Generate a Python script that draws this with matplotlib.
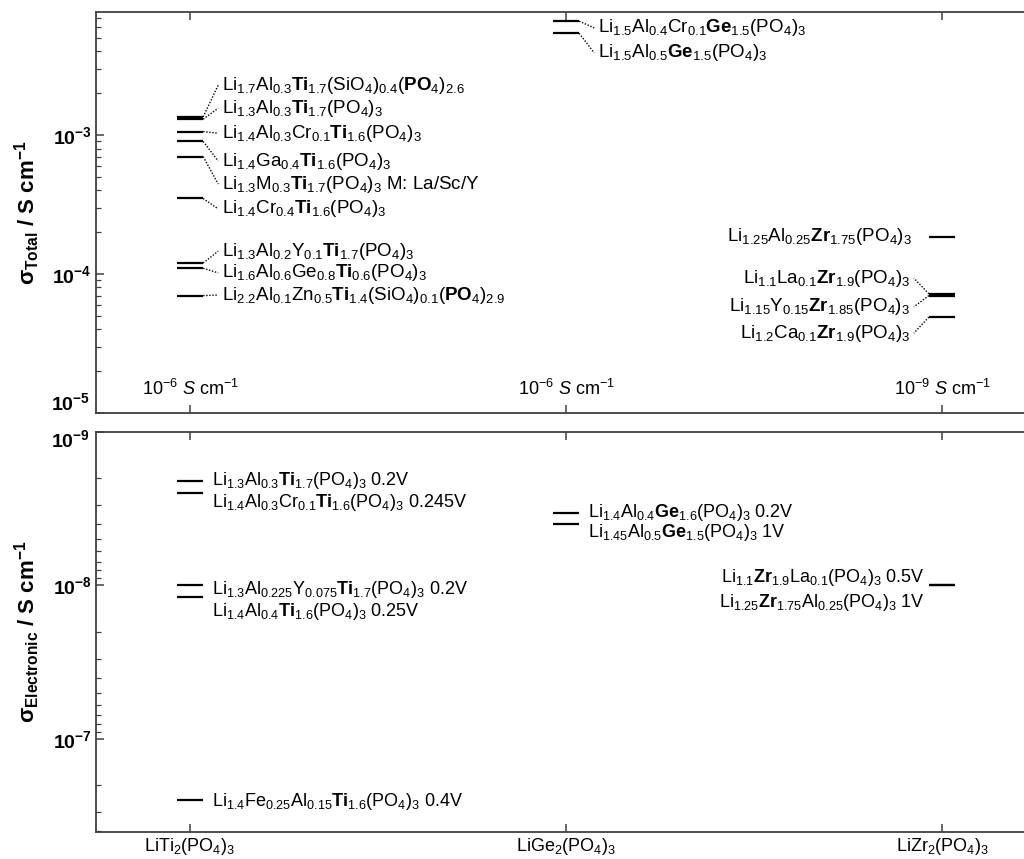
import matplotlib
matplotlib.use('Agg')
import matplotlib.pyplot as plt
from matplotlib.ticker import LogLocator, FuncFormatter, NullFormatter, FixedLocator
import numpy as np

plt.rcParams['font.family'] = ['Liberation Sans', 'DejaVu Sans']
plt.rcParams['mathtext.fontset'] = 'custom'
plt.rcParams['mathtext.rm'] = 'Liberation Sans'
plt.rcParams['mathtext.it'] = 'Liberation Sans:italic'
plt.rcParams['mathtext.bf'] = 'Liberation Sans:bold'
plt.rcParams['mathtext.default'] = 'regular'

# parent compounds on the x axis
families = [r'LiTi$_2$(PO$_4$)$_3$', r'LiGe$_2$(PO$_4$)$_3$', r'LiZr$_2$(PO$_4$)$_3$']
fam_x = [0, 1, 2]
elec_ref = [r'$10^{-6}\ \mathit{S}\ cm^{-1}$', r'$10^{-6}\ \mathit{S}\ cm^{-1}$', r'$10^{-9}\ \mathit{S}\ cm^{-1}$']

# total conductivity (S/cm)
ti_total = [1.35e-3, 1.3e-3, 1.06e-3, 9.0e-4, 7.0e-4, 3.5e-4, 1.2e-4, 1.1e-4, 7.0e-5]
ti_total_names = [
    r'$Li_{1.7}Al_{0.3}\mathbf{Ti}_{1.7}(SiO_4)_{0.4}(\mathbf{PO}_4)_{2.6}$',
    r'$Li_{1.3}Al_{0.3}\mathbf{Ti}_{1.7}(PO_4)_3$',
    r'$Li_{1.4}Al_{0.3}Cr_{0.1}\mathbf{Ti}_{1.6}(PO_4)_3$',
    r'$Li_{1.4}Ga_{0.4}\mathbf{Ti}_{1.6}(PO_4)_3$',
    r'$Li_{1.3}M_{0.3}\mathbf{Ti}_{1.7}(PO_4)_3$ M: La/Sc/Y',
    r'$Li_{1.4}Cr_{0.4}\mathbf{Ti}_{1.6}(PO_4)_3$',
    r'$Li_{1.3}Al_{0.2}Y_{0.1}\mathbf{Ti}_{1.7}(PO_4)_3$',
    r'$Li_{1.6}Al_{0.6}Ge_{0.8}\mathbf{Ti}_{0.6}(PO_4)_3$',
    r'$Li_{2.2}Al_{0.1}Zn_{0.5}\mathbf{Ti}_{1.4}(SiO_4)_{0.1}(\mathbf{PO}_4)_{2.9}$',
]
ti_total_lab_y = [2.29e-3, 1.56e-3, 1.03e-3, 6.5e-4, 4.44e-4, 2.94e-4, 1.46e-4, 1.02e-4, 7.06e-5]

ge_total = [6.6e-3, 5.4e-3]
ge_total_names = [
    r'$Li_{1.5}Al_{0.4}Cr_{0.1}\mathbf{Ge}_{1.5}(PO_4)_3$',
    r'$Li_{1.5}Al_{0.5}\mathbf{Ge}_{1.5}(PO_4)_3$',
]
ge_total_lab_y = [5.9e-3, 3.9e-3]

zr_total = [1.85e-4, 7.2e-5, 7.0e-5, 4.9e-5]
zr_total_names = [
    r'$Li_{1.25}Al_{0.25}\mathbf{Zr}_{1.75}(PO_4)_3$',
    r'$Li_{1.1}La_{0.1}\mathbf{Zr}_{1.9}(PO_4)_3$',
    r'$Li_{1.15}Y_{0.15}\mathbf{Zr}_{1.85}(PO_4)_3$',
    r'$Li_{1.2}Ca_{0.1}\mathbf{Zr}_{1.9}(PO_4)_3$',
]
zr_total_lab_y = [1.85e-4, 9.35e-5, 5.8e-5, 3.75e-5]

# electronic conductivity (S/cm)
ti_elec = [2.1e-9, 2.5e-9, 1.0e-8, 1.2e-8, 2.5e-7]
ti_elec_names = [
    r'$Li_{1.3}Al_{0.3}\mathbf{Ti}_{1.7}(PO_4)_3$ 0.2V',
    r'$Li_{1.4}Al_{0.3}Cr_{0.1}\mathbf{Ti}_{1.6}(PO_4)_3$ 0.245V',
    r'$Li_{1.3}Al_{0.225}Y_{0.075}\mathbf{Ti}_{1.7}(PO_4)_3$ 0.2V',
    r'$Li_{1.4}Al_{0.4}\mathbf{Ti}_{1.6}(PO_4)_3$ 0.25V',
    r'$Li_{1.4}Fe_{0.25}Al_{0.15}\mathbf{Ti}_{1.6}(PO_4)_3$ 0.4V',
]
ti_elec_lab_y = [2.08e-9, 2.88e-9, 1.07e-8, 1.47e-8, 2.56e-7]

ge_elec = [3.4e-9, 4.0e-9]
ge_elec_names = [
    r'$Li_{1.4}Al_{0.4}\mathbf{Ge}_{1.6}(PO_4)_3$ 0.2V',
    r'$Li_{1.45}Al_{0.5}\mathbf{Ge}_{1.5}(PO_4)_3$ 1V',
]
ge_elec_lab_y = [3.35e-9, 4.53e-9]

zr_elec = [1.0e-8, 1.0e-8]
zr_elec_names = [
    r'$Li_{1.1}\mathbf{Zr}_{1.9}La_{0.1}(PO_4)_3$ 0.5V',
    r'$Li_{1.25}\mathbf{Zr}_{1.75}Al_{0.25}(PO_4)_3$ 1V',
]
zr_elec_lab_y = [8.9e-9, 1.3e-8]

FS_TOP = 13.5
FS_BOT = 13
HW = 0.035  # half width of the level bars

fig = plt.figure(figsize=(10.24, 8.59), dpi=100)
ax1 = fig.add_axes([0.09375, 0.5192, 0.918, 0.467])
ax2 = fig.add_axes([0.09375, 0.0314, 0.918, 0.4657])


def levels(ax, x0, vals, lw=1.6):
    for v in vals:
        ax.plot([x0 - HW, x0 + HW], [v, v], color='black', lw=lw, solid_capstyle='butt')


def connectors(ax, x0, vals, lab_y, side=1):
    for v, ly in zip(vals, lab_y):
        ax.plot([x0 + side * HW, x0 + side * 0.075], [v, ly], color='black', lw=1.0,
                ls=(0, (1, 1.2)))


# top panel: total conductivity
levels(ax1, 0, ti_total)
connectors(ax1, 0, ti_total, ti_total_lab_y)
for name, ly in zip(ti_total_names, ti_total_lab_y):
    ax1.text(0.085, ly, name, fontsize=FS_TOP, va='center', ha='left')

levels(ax1, 1, ge_total)
connectors(ax1, 1, ge_total, ge_total_lab_y)
for name, ly in zip(ge_total_names, ge_total_lab_y):
    ax1.text(1.085, ly, name, fontsize=FS_TOP, va='center', ha='left')

levels(ax1, 2, zr_total)
connectors(ax1, 2, zr_total[1:], zr_total_lab_y[1:], side=-1)
for i, (name, ly) in enumerate(zip(zr_total_names, zr_total_lab_y)):
    xt = 2 - 0.085 if i > 0 else 2 - 0.08
    ax1.text(xt, ly, name, fontsize=FS_TOP, va='center', ha='right')

for x0, s in zip(fam_x, elec_ref):
    ax1.text(x0, 1.5e-5, s, fontsize=FS_BOT, va='center', ha='center')

# bottom panel: electronic conductivity
levels(ax2, 0, ti_elec)
for name, ly in zip(ti_elec_names, ti_elec_lab_y):
    ax2.text(0.058, ly, name, fontsize=FS_BOT, va='center', ha='left')
levels(ax2, 1, ge_elec)
for name, ly in zip(ge_elec_names, ge_elec_lab_y):
    ax2.text(1.058, ly, name, fontsize=FS_BOT, va='center', ha='left')
levels(ax2, 2, zr_elec)
for name, ly in zip(zr_elec_names, zr_elec_lab_y):
    ax2.text(2 - 0.045, ly, name, fontsize=FS_BOT, va='center', ha='right')


def dec_str(v):
    return r'$\mathbf{10^{%d}}$' % int(round(np.log10(v)))


def make_fmt(skip):
    # the decade sitting on the panel edge gets its own nudged label
    def fmt(v, pos):
        if abs(np.log10(v) - np.log10(skip)) < 0.01:
            return ''
        return dec_str(v)
    return FuncFormatter(fmt)


for ax, edge in ((ax1, 1e-5), (ax2, 1e-9)):
    ax.set_yscale('log')
    ax.set_xlim(-0.25, 2.25)
    ax.xaxis.set_major_locator(FixedLocator(fam_x))
    ax.yaxis.set_major_locator(LogLocator(base=10))
    ax.yaxis.set_minor_locator(LogLocator(base=10, subs=np.arange(2, 10)))
    ax.yaxis.set_major_formatter(make_fmt(edge))
    ax.yaxis.set_minor_formatter(NullFormatter())
    ax.tick_params(which='both', direction='in', top=True, right=False, color='#404040')
    ax.tick_params(which='major', length=6, width=1.1, labelsize=14, pad=3)
    ax.tick_params(which='minor', length=3.5, width=0.9)
    for sp in ax.spines.values():
        sp.set_color('#404040')
        sp.set_linewidth(1.3)

ax1.set_ylim(1e-5, 7.7e-3)
ax1.set_xticklabels([])
ax2.set_ylim(4.06e-7, 1e-9)
ax2.set_xticklabels(families, fontsize=FS_BOT)
ax2.tick_params(axis='x', pad=3)

ax1.annotate(dec_str(1e-5), xy=(0, 1e-5), xycoords=('axes fraction', 'data'),
             xytext=(-4.5, 7), textcoords='offset points', ha='right', va='center', fontsize=14)
ax2.annotate(dec_str(1e-9), xy=(0, 1e-9), xycoords=('axes fraction', 'data'),
             xytext=(-4.5, -6), textcoords='offset points', ha='right', va='center', fontsize=14)

ax1.set_ylabel(r'$\sigma_{\mathbf{Total}}$ / S cm$^{\mathbf{-1}}$', fontsize=16, fontweight='bold')
ax2.set_ylabel(r'$\sigma_{\mathbf{Electronic}}$ / S cm$^{\mathbf{-1}}$', fontsize=16, fontweight='bold')
ax1.yaxis.set_label_coords(-0.057, 0.5)
ax2.yaxis.set_label_coords(-0.057, 0.5)

fig.savefig('out.png', dpi=100)
